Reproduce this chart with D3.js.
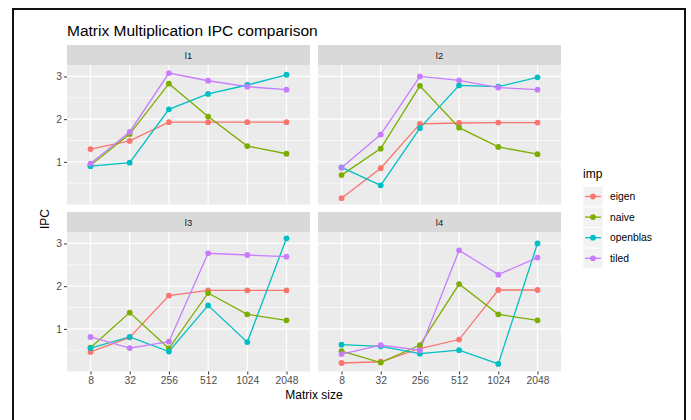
<!DOCTYPE html>
<html>
<head>
<meta charset="utf-8">
<script src="https://cdn.jsdelivr.net/npm/d3@7"></script>
<style>
  body { margin: 0; background: #fff; }
  svg text { font-family: "Liberation Sans", Arial, sans-serif; }
</style>
</head>
<body>
<svg id="chart"></svg>
<script>
const width = 691;
const height = 420;

const sizes = ["8", "32", "256", "512", "1024", "2048"];
const levels = ["l1", "l2", "l3", "l4"];
const imps = ["eigen", "naive", "openblas", "tiled"];
const colors = ["#F8766D", "#7CAE00", "#00BFC4", "#C77CFF"];
const yTicks = [1, 2, 3];

// one row per level (l1..l4), one value per matrix size
const eigen = [
  [1.30, 1.49, 1.93, 1.93, 1.93, 1.93],
  [0.15, 0.85, 1.89, 1.91, 1.92, 1.92],
  [0.46, 0.80, 1.78, 1.90, 1.90, 1.90],
  [0.20, 0.23, 0.54, 0.75, 1.91, 1.91]
];
const naive = [
  [0.92, 1.65, 2.83, 2.06, 1.37, 1.19],
  [0.69, 1.31, 2.78, 1.80, 1.35, 1.18],
  [0.56, 1.38, 0.54, 1.84, 1.34, 1.20],
  [0.48, 0.21, 0.62, 2.05, 1.34, 1.20]
];
const openblas = [
  [0.90, 0.98, 2.23, 2.59, 2.80, 3.04],
  [0.87, 0.45, 1.79, 2.79, 2.76, 2.98],
  [0.55, 0.81, 0.47, 1.55, 0.69, 3.12],
  [0.63, 0.59, 0.42, 0.50, 0.18, 3.00]
];
const tiled = [
  [0.96, 1.70, 3.08, 2.90, 2.76, 2.69],
  [0.86, 1.64, 3.00, 2.91, 2.74, 2.69],
  [0.81, 0.55, 0.70, 2.77, 2.73, 2.69],
  [0.41, 0.62, 0.50, 2.84, 2.27, 2.67]
];
const series = [eigen, naive, openblas, tiled];

const svg = d3.select("#chart").attr("width", width).attr("height", height);

// frame around the figure
svg.append("rect")
  .attr("x", 13).attr("y", 9)
  .attr("width", 672).attr("height", 420)
  .attr("fill", "none").attr("stroke", "#111").attr("stroke-width", 2);

svg.append("text")
  .attr("x", 67).attr("y", 36)
  .attr("font-size", 15.5).attr("fill", "#000")
  .text("Matrix Multiplication IPC comparison");

const panelW = 243, gapX = 8;
const stripH = 20, panelH = 139.5, gapY = 7.5;
const marginLeft = 67, marginTop = 45;

const all = series.flat(2);
const [lo, hi] = d3.extent(all);
const pad = (hi - lo) * 0.05;

const y = d3.scaleLinear().domain([lo - pad, hi + pad]).range([panelH, 0]);
const x = d3.scalePoint().domain(sizes).range([0, panelW]).padding(0.6);

const line = d3.line().x((d, i) => x(sizes[i])).y(d => y(d));

levels.forEach((lvl, li) => {
  const col = li % 2, row = Math.floor(li / 2);
  const px = marginLeft + col * (panelW + gapX);
  const py = marginTop + row * (stripH + panelH + gapY);

  const g = svg.append("g").attr("transform", `translate(${px},${py})`);

  g.append("rect")
    .attr("width", panelW).attr("height", stripH).attr("fill", "#D9D9D9");
  g.append("text")
    .attr("x", panelW / 2).attr("y", stripH / 2 + 3.5)
    .attr("text-anchor", "middle").attr("font-size", 9.5).attr("fill", "#1A1A1A")
    .text(lvl);

  const p = g.append("g").attr("transform", `translate(0,${stripH})`);
  p.append("rect").attr("width", panelW).attr("height", panelH).attr("fill", "#EBEBEB");

  p.selectAll(".minor")
    .data([0.5, 1.5, 2.5])
    .enter().append("line")
    .attr("x1", 0).attr("x2", panelW)
    .attr("y1", d => y(d)).attr("y2", d => y(d))
    .attr("stroke", "#fff").attr("stroke-width", 0.6);
  p.selectAll(".hmajor")
    .data(yTicks)
    .enter().append("line")
    .attr("x1", 0).attr("x2", panelW)
    .attr("y1", d => y(d)).attr("y2", d => y(d))
    .attr("stroke", "#fff").attr("stroke-width", 1.2);
  p.selectAll(".vmajor")
    .data(sizes)
    .enter().append("line")
    .attr("x1", d => x(d)).attr("x2", d => x(d))
    .attr("y1", 0).attr("y2", panelH)
    .attr("stroke", "#fff").attr("stroke-width", 1.2);

  series.forEach((s, si) => {
    p.append("path")
      .attr("d", line(s[li]))
      .attr("fill", "none")
      .attr("stroke", colors[si])
      .attr("stroke-width", 1.3);
  });
  series.forEach((s, si) => {
    p.selectAll(null)
      .data(s[li])
      .enter().append("circle")
      .attr("cx", (d, i) => x(sizes[i]))
      .attr("cy", d => y(d))
      .attr("r", 2.9)
      .attr("fill", colors[si]);
  });

  if (col === 0) {
    const ax = p.append("g").call(d3.axisLeft(y).tickValues(yTicks).tickSize(3).tickPadding(2).tickFormat(d3.format("d")));
    ax.select(".domain").remove();
    ax.selectAll("line").attr("stroke", "#333");
    ax.selectAll("text").attr("fill", "#4D4D4D").attr("font-size", 10.3)
      .style("font-family", "Liberation Sans, Arial, sans-serif");
  }
  if (row === 1) {
    const ax = p.append("g").attr("transform", `translate(0,${panelH})`)
      .call(d3.axisBottom(x).tickSize(3).tickPadding(2));
    ax.select(".domain").remove();
    ax.selectAll("line").attr("stroke", "#333");
    ax.selectAll("text").attr("fill", "#4D4D4D").attr("font-size", 10.3)
      .style("font-family", "Liberation Sans, Arial, sans-serif");
  }
});

svg.append("text")
  .attr("x", marginLeft + panelW + gapX / 2).attr("y", 399)
  .attr("text-anchor", "middle").attr("font-size", 12)
  .text("Matrix size");
svg.append("text")
  .attr("transform", "translate(49,219) rotate(-90)")
  .attr("text-anchor", "middle").attr("font-size", 12)
  .text("IPC");

// legend
const legend = svg.append("g").attr("transform", "translate(583,0)");
legend.append("text").attr("x", 0).attr("y", 178).attr("font-size", 12).text("imp");
imps.forEach((name, i) => {
  const ky = 186.5 + i * 20.6;
  legend.append("rect").attr("x", 0).attr("y", ky).attr("width", 20).attr("height", 20)
    .attr("fill", "#F2F2F2").attr("stroke", "#fff").attr("stroke-width", 0.6);
  legend.append("line").attr("x1", 2).attr("x2", 18).attr("y1", ky + 10).attr("y2", ky + 10)
    .attr("stroke", colors[i]).attr("stroke-width", 1.3);
  legend.append("circle").attr("cx", 10).attr("cy", ky + 10).attr("r", 2.9).attr("fill", colors[i]);
  legend.append("text").attr("x", 27).attr("y", ky + 13.7).attr("font-size", 10.3).attr("fill", "#000").text(name);
});
</script>
</body>
</html>
